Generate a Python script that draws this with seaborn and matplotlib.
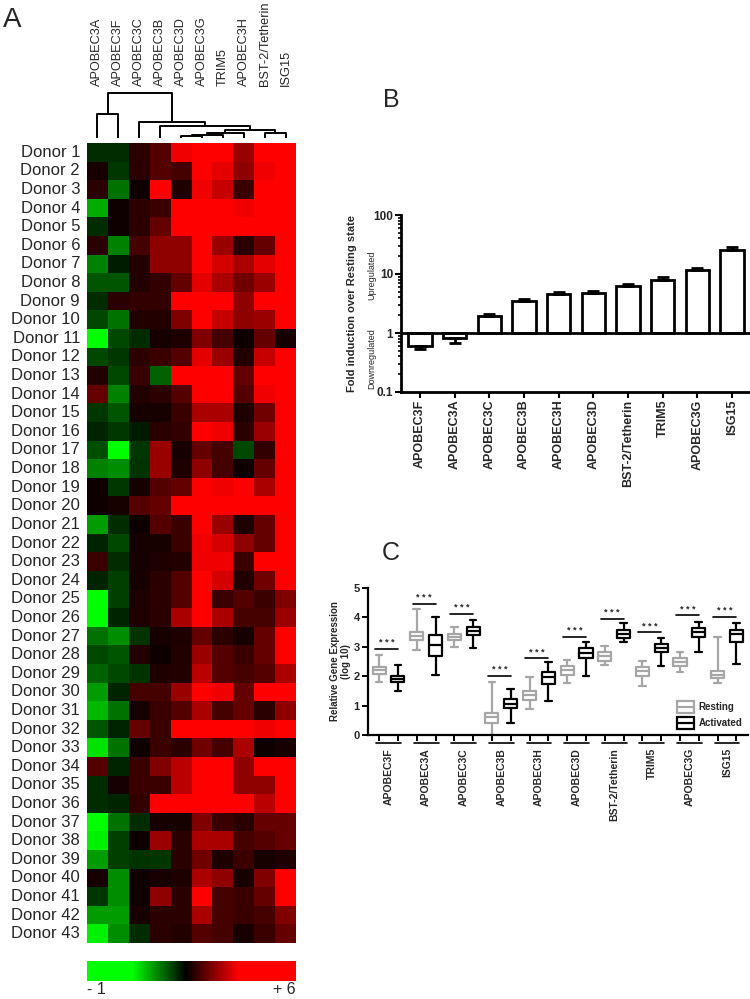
import numpy as np
import pandas as pd
import matplotlib
matplotlib.use("Agg")
import matplotlib.pyplot as plt
import seaborn as sns
from matplotlib.colors import LinearSegmentedColormap
from matplotlib.legend_handler import HandlerBase
from matplotlib.patches import Rectangle
from matplotlib.lines import Line2D
from matplotlib.ticker import LogLocator, NullFormatter, FixedLocator

sns.set_theme(style="ticks")
plt.rcParams["font.family"] = ["Liberation Sans", "DejaVu Sans"]

# ---------------- Panel A data ----------------
genes_A = ["APOBEC3A", "APOBEC3F", "APOBEC3C", "APOBEC3B", "APOBEC3D",
           "APOBEC3G", "TRIM5", "APOBEC3H", "BST-2/Tetherin", "ISG15"]
donors = [f"Donor {i}" for i in range(1, 44)]
heat_values = [
    [2.0, 2.0, 2.6, 2.9, 4.0, 5.0, 5.0, 3.4, 5.0, 5.0],
    [2.45, 1.9, 2.6, 2.9, 2.8, 5.0, 3.9, 3.3, 4.0, 5.0],
    [2.6, 1.5, 2.4, 5.0, 2.5, 4.0, 3.7, 2.7, 5.0, 5.0],
    [1.1, 2.4, 2.6, 2.7, 5.0, 5.0, 5.0, 4.0, 5.0, 5.0],
    [2.0, 2.4, 2.6, 3.0, 5.0, 5.0, 5.0, 5.0, 4.2, 5.0],
    [2.6, 1.4, 2.8, 3.3, 3.3, 5.0, 3.4, 2.6, 3.0, 5.0],
    [1.4, 2.1, 2.55, 3.3, 3.3, 5.0, 3.8, 3.5, 3.9, 5.0],
    [1.7, 1.7, 2.55, 2.65, 3.0, 3.9, 3.5, 3.1, 3.4, 5.0],
    [2.0, 2.6, 2.65, 2.65, 5.0, 5.0, 5.0, 3.3, 5.0, 5.0],
    [1.8, 1.5, 2.55, 2.55, 3.2, 5.0, 3.7, 3.3, 3.4, 5.0],
    [0.5, 1.8, 2.0, 2.45, 2.5, 3.2, 2.8, 2.4, 3.0, 2.45],
    [1.8, 1.9, 2.6, 2.7, 2.9, 3.9, 3.4, 2.55, 3.7, 5.0],
    [2.55, 1.8, 2.7, 1.6, 4.1, 5.0, 5.0, 3.0, 5.0, 5.0],
    [3.0, 1.4, 2.55, 2.6, 2.9, 5.0, 5.0, 2.9, 4.0, 5.0],
    [1.9, 1.7, 2.45, 2.45, 2.7, 3.5, 3.5, 2.5, 3.1, 5.0],
    [2.05, 1.9, 2.1, 2.6, 2.65, 5.0, 4.0, 2.6, 3.4, 5.0],
    [1.75, 0.5, 1.9, 3.4, 2.45, 3.0, 2.8, 1.8, 2.65, 5.0],
    [1.4, 1.3, 1.95, 3.4, 2.5, 3.3, 2.8, 2.4, 3.0, 5.0],
    [2.4, 1.9, 2.45, 2.9, 3.0, 5.0, 4.0, 5.0, 3.5, 5.0],
    [2.4, 2.45, 2.9, 3.0, 5.0, 5.0, 5.0, 5.0, 5.0, 5.0],
    [1.2, 2.0, 2.4, 2.9, 2.7, 5.0, 3.4, 2.5, 3.0, 5.0],
    [2.05, 1.8, 2.45, 2.45, 2.7, 4.0, 3.8, 3.3, 3.0, 5.0],
    [2.7, 2.0, 2.45, 2.5, 2.55, 4.0, 4.0, 2.7, 5.0, 5.0],
    [2.05, 1.85, 2.45, 2.6, 2.9, 5.0, 3.8, 2.55, 3.1, 5.0],
    [0.4, 1.85, 2.5, 2.6, 2.9, 5.0, 2.7, 2.9, 2.7, 3.2],
    [0.4, 2.05, 2.5, 2.6, 3.5, 5.0, 3.5, 2.8, 2.8, 3.4],
    [1.5, 1.3, 1.95, 2.45, 2.5, 3.0, 2.6, 2.45, 3.0, 5.0],
    [1.8, 1.7, 2.55, 2.4, 2.55, 3.4, 2.9, 2.7, 3.0, 5.0],
    [1.6, 1.8, 1.95, 2.5, 2.55, 3.6, 2.9, 2.8, 2.9, 3.5],
    [1.2, 2.05, 2.8, 2.8, 3.4, 5.0, 4.0, 3.0, 5.0, 5.0],
    [1.0, 1.5, 2.45, 2.7, 2.9, 3.5, 2.8, 3.0, 2.6, 3.3],
    [1.7, 2.05, 3.0, 2.7, 5.0, 5.0, 5.0, 4.1, 4.0, 5.0],
    [0.7, 1.5, 2.4, 2.7, 2.6, 3.1, 2.8, 3.5, 2.4, 2.45],
    [2.9, 2.05, 2.7, 3.2, 3.6, 5.0, 5.0, 3.3, 5.0, 5.0],
    [2.0, 2.45, 2.7, 2.7, 3.6, 5.0, 5.0, 3.3, 3.3, 5.0],
    [2.0, 2.05, 2.65, 5.0, 5.0, 5.0, 5.0, 5.0, 3.6, 5.0],
    [0.3, 1.5, 2.0, 2.45, 2.45, 3.2, 2.7, 2.6, 3.0, 3.0],
    [0.6, 1.85, 2.4, 3.4, 2.6, 3.5, 3.5, 2.8, 2.9, 3.0],
    [1.2, 1.85, 1.95, 1.9, 2.6, 3.1, 2.5, 2.7, 2.45, 2.5],
    [2.45, 1.3, 2.4, 2.45, 2.5, 3.5, 3.3, 2.45, 3.2, 5.0],
    [1.9, 1.3, 2.4, 3.3, 2.6, 5.0, 2.8, 2.7, 3.0, 5.0],
    [1.2, 1.2, 2.45, 2.6, 2.6, 3.5, 2.8, 2.7, 2.8, 3.2],
    [0.6, 1.3, 2.0, 2.6, 2.55, 2.9, 2.8, 2.45, 2.7, 3.0],
]
# dendrogram merges: (left, right, height); ids >= 10 refer to earlier merges
linkage = [(4, 5, 2.0), (10, 6, 3.3), (11, 7, 5.3), (8, 9, 4.7), (12, 13, 8.0),
           (3, 14, 12.3), (2, 15, 16.3), (0, 1, 23.7), (17, 16, 44.7)]
cbar_ticks = [-1, 6]
cbar_labels = ["- 1", "+ 6"]

# ---------------- Panel B data ----------------
genes_B = ["APOBEC3F", "APOBEC3A", "APOBEC3C", "APOBEC3B", "APOBEC3H",
           "APOBEC3D", "BST-2/Tetherin", "TRIM5", "APOBEC3G", "ISG15"]
fold = [0.60, 0.82, 1.94, 3.5, 4.6, 4.75, 6.3, 7.9, 11.5, 25.5]
fold_err_end = [0.535, 0.68, 2.1, 3.8, 5.0, 5.2, 6.8, 8.8, 12.5, 29.0]

# ---------------- Panel C data ----------------
genes_C = ["APOBEC3F", "APOBEC3A", "APOBEC3C", "APOBEC3B", "APOBEC3H",
           "APOBEC3D", "BST-2/Tetherin", "TRIM5", "APOBEC3G", "ISG15"]
# five-number summaries: min, q1, median, q3, max
resting_stats = [
    [1.80, 2.08, 2.20, 2.30, 2.72],
    [2.88, 3.22, 3.37, 3.52, 4.28],
    [2.98, 3.24, 3.33, 3.43, 3.67],
    [0.00, 0.42, 0.60, 0.76, 1.79],
    [0.88, 1.20, 1.35, 1.50, 1.97],
    [1.78, 2.05, 2.20, 2.33, 2.56],
    [2.39, 2.53, 2.68, 2.84, 3.03],
    [1.67, 1.99, 2.16, 2.31, 2.53],
    [2.13, 2.35, 2.50, 2.61, 2.84],
    [1.76, 1.93, 2.05, 2.18, 3.32],
]
activated_stats = [
    [1.48, 1.80, 1.90, 2.00, 2.37],
    [2.05, 2.69, 3.05, 3.41, 4.01],
    [2.95, 3.41, 3.55, 3.69, 3.90],
    [0.40, 0.91, 1.04, 1.22, 1.56],
    [1.17, 1.74, 1.96, 2.13, 2.47],
    [2.02, 2.61, 2.80, 2.95, 3.16],
    [3.18, 3.30, 3.43, 3.56, 3.81],
    [2.33, 2.84, 2.97, 3.10, 3.30],
    [2.81, 3.35, 3.50, 3.64, 3.84],
    [2.42, 3.16, 3.45, 3.56, 3.81],
]
sig_heights = [2.93, 4.47, 4.12, 2.01, 2.61, 3.35, 3.95, 3.49, 4.07, 4.01]
conditions = ["Resting", "Activated"]

# ---------------- Figure ----------------
W, H = 750, 999
fig = plt.figure(figsize=(7.5, 9.99), dpi=100)


def px_axes(x0, y0, x1, y1):
    return fig.add_axes([x0 / W, 1 - y1 / H, (x1 - x0) / W, (y1 - y0) / H])


# ---- Panel A: heatmap ----
cmap = LinearSegmentedColormap.from_list(
    "gkr", [(0.0, (0, 1, 0)), (1.5 / 7, (0, 1, 0)), (3.3 / 7, (0, 0, 0)),
            (5.1 / 7, (1, 0, 0)), (1.0, (1, 0, 0))])
ax_hm = px_axes(87, 143, 296, 943)
cax = px_axes(87, 961, 296, 981)
df_heat = pd.DataFrame(heat_values, index=donors, columns=genes_A)
sns.heatmap(df_heat, ax=ax_hm, cmap=cmap, vmin=-1, vmax=6,
            xticklabels=False, yticklabels=True, cbar_ax=cax,
            cbar_kws={"orientation": "horizontal"})
ax_hm.tick_params(axis="y", length=0, pad=5, labelsize=12, rotation=0)
ax_hm.set_xlabel("")
ax_hm.set_ylabel("")
cbar = ax_hm.collections[0].colorbar
cbar.outline.set_visible(False)
cbar.set_ticks(cbar_ticks)
cbar.set_ticklabels(cbar_labels)
cax.tick_params(length=0, labelsize=11.5, pad=1)
labs = cax.get_xticklabels()
labs[0].set_ha("left")
labs[-1].set_ha("right")

# dendrogram
ax_d = px_axes(87, 90, 296, 138)
ax_d.set_xlim(0, len(genes_A))
ax_d.set_ylim(0, 48)
ax_d.axis("off")
node_x = {i: i + 0.5 for i in range(len(genes_A))}
node_h = {i: 0.0 for i in range(len(genes_A))}
for k, (a, b, h) in enumerate(linkage):
    nid = len(genes_A) + k
    xa, xb = node_x[a], node_x[b]
    ax_d.plot([xa, xa, xb, xb], [node_h[a], h, h, node_h[b]],
              color="black", lw=1.4, solid_capstyle="butt")
    node_x[nid] = (xa + xb) / 2
    node_h[nid] = h
for i, g in enumerate(genes_A):
    ax_d.text(i + 0.5, 51.5, g, rotation=90, ha="center", va="bottom",
              fontsize=9.2, clip_on=False)

# ---- Panel B: fold induction ----
axB = px_axes(401, 215, 750, 392)
xB = np.arange(len(genes_B))
fold_arr = np.array(fold)
err_arr = np.array(fold_err_end)
axB.bar(xB, fold_arr - 1, bottom=1, width=0.67, facecolor="white",
        edgecolor="black", linewidth=2, zorder=2)
lower = np.where(fold_arr < 1, fold_arr - err_arr, 0)
upper = np.where(fold_arr >= 1, err_arr - fold_arr, 0)
axB.errorbar(xB, fold_arr, yerr=[lower, upper], fmt="none", ecolor="black",
             elinewidth=2, capsize=4.5, capthick=2, zorder=3)
axB.set_yscale("log")
axB.set_ylim(0.1, 100)
axB.set_xlim(-0.55, 9.52)
axB.axhline(1, color="black", lw=2, zorder=4)
axB.yaxis.set_major_locator(FixedLocator([0.1, 1, 10, 100]))
axB.set_yticklabels(["0.1", "1", "10", "100"], fontweight="bold", fontsize=8.5)
axB.yaxis.set_minor_locator(LogLocator(base=10, subs=np.arange(2, 10)))
axB.yaxis.set_minor_formatter(NullFormatter())
axB.set_xticks(xB)
axB.set_xticklabels(genes_B, rotation=90, fontweight="bold", fontsize=9)
axB.tick_params(axis="both", which="major", direction="out", length=4,
                width=1.5, pad=1.5, color="black")
axB.tick_params(axis="y", which="minor", direction="out", length=2.5,
                width=1.2, color="black")
for s in ["top", "right"]:
    axB.spines[s].set_visible(False)
for s in ["left", "bottom"]:
    axB.spines[s].set_linewidth(2)
    axB.spines[s].set_color("black")
axB.set_ylabel("Fold induction over Resting state", fontweight="bold",
               fontsize=8)
axB.yaxis.set_label_coords(-0.125, 0.5)
axB.text(-0.085, 0.66, "Upregulated", rotation=90, ha="center", va="center",
         fontsize=6.5, transform=axB.transAxes)
axB.text(-0.085, 0.19, "Downregulated", rotation=90, ha="center",
         va="center", fontsize=6.5, transform=axB.transAxes)

# ---- Panel C: boxplots ----
axC = px_axes(368, 588, 748, 735)
rows = []
for g, rs, acs in zip(genes_C, resting_stats, activated_stats):
    for v in rs:
        rows.append((g, "Resting", v))
    for v in acs:
        rows.append((g, "Activated", v))
df_box = pd.DataFrame(rows, columns=["gene", "condition", "expr"])
palette = {"Resting": "#a6a6a6", "Activated": "black"}
sns.boxplot(data=df_box, x="gene", y="expr", hue="condition",
            order=genes_C, hue_order=conditions, palette=palette,
            fill=False, width=1.0, gap=0.3, whis=(0, 100), linewidth=1.6,
            legend=False, ax=axC)
axC.set_xlim(-0.545, 9.56)
axC.set_ylim(0, 5)
axC.set_yticks([0, 1, 2, 3, 4, 5])
axC.set_yticklabels(["0", "1", "2", "3", "4", "5"], fontweight="bold",
                    fontsize=8)
tick_pos = [i + d for i in range(len(genes_C)) for d in (-0.25, 0.25)]
axC.set_xticks(tick_pos)
axC.set_xticklabels([])
axC.tick_params(axis="both", direction="out", length=4, width=1.4,
                color="black", pad=2)
axC.set_xlabel("")
for s in ["top", "right"]:
    axC.spines[s].set_visible(False)
for s in ["left", "bottom"]:
    axC.spines[s].set_linewidth(1.6)
    axC.spines[s].set_color("black")
axC.set_ylabel("Relative Gene Expression\n(log 10)", fontweight="bold",
               fontsize=7, linespacing=1.1)
axC.yaxis.set_label_coords(-0.045, 0.5)
for i, (g, h) in enumerate(zip(genes_C, sig_heights)):
    axC.plot([i - 0.36, i + 0.25], [h, h], color="black", lw=1.2)
    axC.text(i - 0.05, h + 0.06, "* * *", ha="center", va="bottom",
             fontsize=6.5, fontweight="bold")
    axC.plot([i - 0.33, i + 0.33], [-0.27, -0.27], color="black", lw=1.2,
             clip_on=False)
    axC.text(i, -0.45, g, rotation=90, ha="center", va="top", fontsize=7.5,
             fontweight="bold", clip_on=False)


class BoxHandler(HandlerBase):
    def create_artists(self, legend, orig_handle, xdescent, ydescent, width,
                       height, fontsize, trans):
        c = orig_handle.get_edgecolor()
        r = Rectangle((-xdescent, -ydescent), width, height, facecolor="none",
                      edgecolor=c, lw=1.6, transform=trans)
        ln = Line2D([-xdescent, -xdescent + width],
                    [-ydescent + height / 2] * 2, color=c, lw=1.6,
                    transform=trans)
        return [r, ln]


handles = [Rectangle((0, 0), 1, 1, facecolor="none", edgecolor=palette[c])
           for c in conditions]
axC.legend(handles, conditions, handler_map={Rectangle: BoxHandler()},
           loc="lower right", frameon=False,
           prop={"weight": "bold", "size": 7}, handlelength=1.7,
           handleheight=1.6, labelspacing=0.35, borderaxespad=0.2,
           handletextpad=0.5)

# panel letters
fig.text(12 / W, 1 - 20 / H, "A", fontsize=20, ha="center", va="center")
fig.text(391 / W, 1 - 100 / H, "B", fontsize=18, ha="center", va="center")
fig.text(391 / W, 1 - 553 / H, "C", fontsize=18, ha="center", va="center")

fig.savefig("out.png", dpi=100)
